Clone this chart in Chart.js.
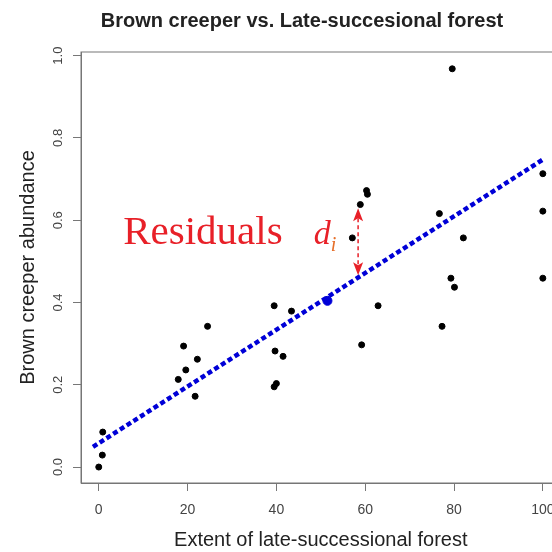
<!DOCTYPE html>
<html>
<head>
<meta charset="utf-8">
<script src="https://cdn.jsdelivr.net/npm/chart.js@4.4.1/dist/chart.umd.min.js"></script>
<style>
    html, body { margin: 0; padding: 0; background: #fff; overflow: hidden; }
    #wrap { width: 604px; height: 552px; }
</style>
</head>
<body>
<div id="wrap"><canvas id="creeperChart" width="604" height="552"></canvas></div>
<script>
// values
const forestExtent = [0, 0.8, 0.9, 17.9, 19.1, 19.6, 21.7, 22.2, 24.5, 39.5, 40.0, 39.5, 39.7, 41.5, 43.4,
    57.1, 58.9, 60.3, 60.5, 59.2, 62.9, 76.7, 77.3, 79.3, 80.1, 79.6, 82.1, 100, 100, 100];
const creeperAbundance = [0.0, 0.029, 0.085, 0.213, 0.294, 0.236, 0.172, 0.262, 0.342, 0.195, 0.203, 0.392, 0.282, 0.269, 0.379,
    0.557, 0.638, 0.672, 0.663, 0.297, 0.392, 0.616, 0.342, 0.459, 0.437, 0.968, 0.557, 0.713, 0.622, 0.459];
const fitX = [-1.3, 100.1];
const fitY = [0.049, 0.748];
const meanX = [51.5];
const meanY = [0.404];
const xTicks = [0, 20, 40, 60, 80, 100];
const yTicks = [0, 0.2, 0.4, 0.6, 0.8, 1.0];
const xRange = [-4, 104];
const yRange = [-0.0388, 1.0088];

// residual annotation (data coordinates)
const residualX = 58.4;
const residualY = [0.466, 0.629];
const residualLabel = [5.5, 0.541];
const diLabel = [48.4, 0.541];

const red = 'rgb(232, 32, 40)';

const toPoints = (xs, ys) => xs.map((v, i) => ({ x: v, y: ys[i] }));

const decorations = {
    id: 'decorations',
    afterDatasetsDraw(chart) {
        const { ctx, chartArea: a, scales: { x, y } } = chart;
        ctx.save();

        // box around plot
        ctx.strokeStyle = '#777';
        ctx.lineWidth = 1;
        ctx.strokeRect(a.left, a.top, a.right - a.left, a.bottom - a.top);

        // main title
        ctx.fillStyle = '#222';
        ctx.font = 'bold 20px "Liberation Sans", Arial, sans-serif';
        ctx.textAlign = 'center';
        ctx.textBaseline = 'middle';
        ctx.fillText('Brown creeper vs. Late-succesional forest', 302, 21);

        // residual arrow
        const ax = x.getPixelForValue(residualX);
        const yb = y.getPixelForValue(residualY[0]);
        const yt = y.getPixelForValue(residualY[1]);
        ctx.strokeStyle = red;
        ctx.lineWidth = 1.5;
        ctx.setLineDash([4, 3]);
        ctx.beginPath();
        ctx.moveTo(ax, yt + 10);
        ctx.lineTo(ax, yb - 10);
        ctx.stroke();
        ctx.setLineDash([]);
        ctx.fillStyle = red;
        ctx.beginPath();
        ctx.moveTo(ax, yt);
        ctx.lineTo(ax - 5, yt + 13);
        ctx.lineTo(ax, yt + 10);
        ctx.lineTo(ax + 5, yt + 13);
        ctx.closePath();
        ctx.fill();
        ctx.beginPath();
        ctx.moveTo(ax, yb);
        ctx.lineTo(ax - 5, yb - 13);
        ctx.lineTo(ax, yb - 10);
        ctx.lineTo(ax + 5, yb - 13);
        ctx.closePath();
        ctx.fill();

        // labels
        ctx.textAlign = 'left';
        ctx.textBaseline = 'alphabetic';
        ctx.font = '41px "Liberation Serif", "Times New Roman", serif';
        ctx.fillText('Residuals', x.getPixelForValue(residualLabel[0]), y.getPixelForValue(residualLabel[1]));
        const dx = x.getPixelForValue(diLabel[0]);
        const dy = y.getPixelForValue(diLabel[1]);
        ctx.font = 'italic 34px "Liberation Serif", "Times New Roman", serif';
        ctx.fillText('d', dx, dy);
        const dw = ctx.measureText('d').width;
        ctx.fillStyle = 'rgb(230, 110, 40)';
        ctx.font = 'italic 20px "Liberation Serif", "Times New Roman", serif';
        ctx.fillText('i', dx + dw, dy + 7);

        ctx.restore();
    }
};

Chart.defaults.font.family = '"Liberation Sans", Arial, sans-serif';

new Chart(document.getElementById('creeperChart'), {
    type: 'scatter',
    data: {
        datasets: [
            {
                type: 'line',
                data: toPoints(fitX, fitY),
                borderColor: 'rgb(0, 0, 215)',
                borderWidth: 4.5,
                borderDash: [5, 3],
                pointRadius: 0,
                fill: false,
                order: 2
            },
            {
                data: toPoints(meanX, meanY),
                backgroundColor: 'rgb(0, 0, 215)',
                borderColor: 'rgb(0, 0, 215)',
                pointRadius: 4.5,
                order: 1
            },
            {
                data: toPoints(forestExtent, creeperAbundance),
                backgroundColor: '#000',
                borderColor: '#000',
                pointRadius: 3,
                order: 0
            }
        ]
    },
    options: {
        responsive: false,
        animation: false,
        devicePixelRatio: 1,
        layout: { padding: { left: 0, top: 52, right: 43.4, bottom: 0 } },
        plugins: {
            legend: { display: false },
            tooltip: { enabled: false }
        },
        scales: {
            x: {
                type: 'linear',
                min: xRange[0],
                max: xRange[1],
                afterBuildTicks: scale => { scale.ticks = xTicks.map(v => ({ value: v })); },
                afterFit: scale => { scale.height = 69; },
                grid: { drawOnChartArea: false, tickLength: 8, color: '#777' },
                border: { color: '#777' },
                ticks: {
                    color: '#444',
                    font: { size: 14 },
                    padding: 11,
                    maxRotation: 0,
                    callback: v => String(v)
                },
                title: {
                    display: true,
                    text: 'Extent of late-successional forest',
                    color: '#222',
                    font: { size: 20 },
                    padding: { top: 0, bottom: 0 }
                }
            },
            y: {
                type: 'linear',
                min: yRange[0],
                max: yRange[1],
                afterBuildTicks: scale => { scale.ticks = yTicks.map(v => ({ value: v })); },
                afterFit: scale => { scale.width = 81; },
                grid: { drawOnChartArea: false, tickLength: 8, color: '#777' },
                border: { color: '#777' },
                ticks: {
                    color: '#444',
                    font: { size: 13 },
                    padding: 6,
                    minRotation: 90,
                    maxRotation: 90,
                    crossAlign: 'center',
                    callback: v => v.toFixed(1)
                },
                title: {
                    display: true,
                    text: 'Brown creeper abundance',
                    color: '#222',
                    font: { size: 20 },
                    padding: { top: 16, bottom: 0 }
                }
            }
        }
    },
    plugins: [decorations]
});
</script>
</body>
</html>
